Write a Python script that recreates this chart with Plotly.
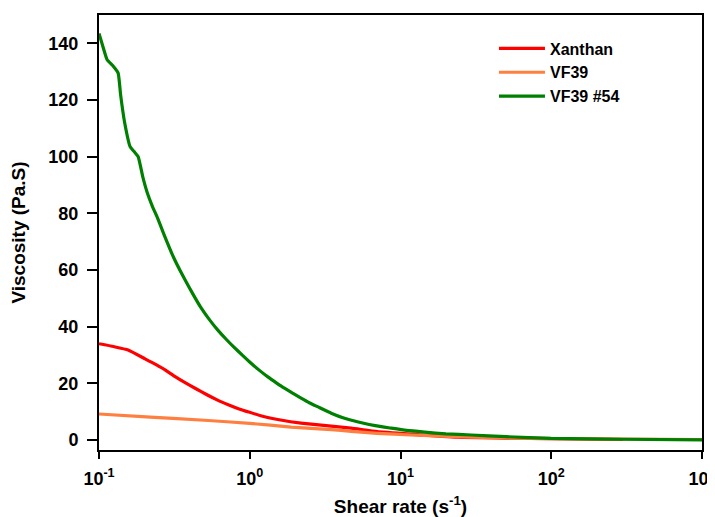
import plotly.graph_objects as go

# Xanthan
xan_x = [0.1, 0.125, 0.156, 0.2, 0.263, 0.32, 0.363, 0.437, 0.52, 0.612, 0.72, 0.85, 0.984,
         1.2, 1.6, 2.19, 3.47, 4.7, 7.0, 11.7, 24, 50, 100, 300]
xan_y = [34.0, 33.0, 31.8, 28.8, 25.4, 22.4, 20.6, 18.2, 16.0, 14.1, 12.5, 11.0, 9.9,
         8.5, 7.1, 6.0, 4.9, 4.2, 3.0, 2.1, 1.0, 0.7, 0.5, 0.2]

# VF39
vf_x = [0.1, 0.219, 0.5, 1.0, 1.88, 3.47, 4.7, 7.0, 11.7, 29.5, 100, 1000]
vf_y = [9.2, 8.1, 7.0, 5.9, 4.6, 3.7, 3.1, 2.4, 1.8, 1.0, 0.5, 0.2]

# VF39 #54
vf54_x = [0.1, 0.106, 0.113, 0.124, 0.134, 0.139, 0.148, 0.161, 0.171, 0.182, 0.195, 0.209,
          0.226, 0.244, 0.27, 0.311, 0.363, 0.42, 0.471, 0.54, 0.612, 0.7, 0.782, 0.9, 1.016,
          1.16, 1.318, 1.5, 1.687, 1.95, 2.19, 2.5, 2.84, 3.47, 4.2, 5.25, 6.8, 8.7, 11.0,
          14.5, 20, 29.5, 50, 100, 300, 1000]
vf54_y = [143.5, 139.0, 134.3, 132.0, 129.5, 122.0, 112.0, 103.5, 101.8, 100, 93.0, 87.3,
          82.5, 78.5, 72.5, 64.7, 57.6, 51.5, 47.0, 42.5, 38.9, 35.5, 32.9, 29.8, 27.2,
          24.6, 22.3, 20.2, 18.4, 16.4, 14.8, 13.1, 11.7, 9.5, 7.8, 6.4, 5.1, 4.2, 3.4,
          2.8, 2.2, 1.8, 1.2, 0.6, 0.3, 0.1]

series = [
    ("Xanthan", xan_x, xan_y, "#ff0000"),
    ("VF39", vf_x, vf_y, "#ff7f40"),
    ("VF39 #54", vf54_x, vf54_y, "#008000"),
]

fig = go.Figure()
for name, xs, ys, col in series:
    fig.add_trace(go.Scatter(x=xs, y=ys, name=name, mode="lines",
                             line=dict(color=col, width=3.2, shape="spline", smoothing=0.4)))

font = "Liberation Sans, Arial, sans-serif"
# page body adds an 8px offset; figure sized to fill the remaining window
fig.update_layout(
    width=707, height=509,
    margin=dict(l=91, r=13, t=7, b=67),
    plot_bgcolor="white", paper_bgcolor="white",
    font=dict(family=font, color="black"),
    showlegend=True,
    legend=dict(x=0.655, y=0.962, xanchor="left", yanchor="top",
                bgcolor="rgba(0,0,0,0)",
                font=dict(family=font, size=16, color="black", weight="bold"),
                tracegroupgap=0, itemwidth=46),
)
fig.update_xaxes(
    type="log", range=[-1, 3.0],
    tickvals=[0.1, 1, 10, 100, 1000],
    ticktext=["10<sup>-1</sup>", "10<sup>0</sup>", "10<sup>1</sup>", "10<sup>2</sup>", "10<sup>3</sup>"],
    ticks="outside", ticklen=7, tickwidth=2, tickcolor="black",
    ticklabelstandoff=4, ticklabeloverflow="allow",
    showline=True, linewidth=2, linecolor="black", mirror=True,
    showgrid=False, zeroline=False, automargin=False,
    tickfont=dict(family=font, size=18, color="black", weight="bold"),
    title=dict(text="Shear rate (s<sup>-1</sup>)", standoff=12,
               font=dict(family=font, size=19, color="black", weight="bold")),
)
fig.update_yaxes(
    range=[-3.5, 150],
    tickvals=[0, 20, 40, 60, 80, 100, 120, 140],
    ticks="outside", ticklen=10, tickwidth=2, tickcolor="black",
    ticklabelstandoff=5,
    showline=True, linewidth=2, linecolor="black", mirror=True,
    showgrid=False, zeroline=False, automargin=False,
    tickfont=dict(family=font, size=18, color="black", weight="bold"),
    title=dict(text="Viscosity (Pa.S)", standoff=20,
               font=dict(family=font, size=19, color="black", weight="bold")),
)
fig.write_html("out.html")
